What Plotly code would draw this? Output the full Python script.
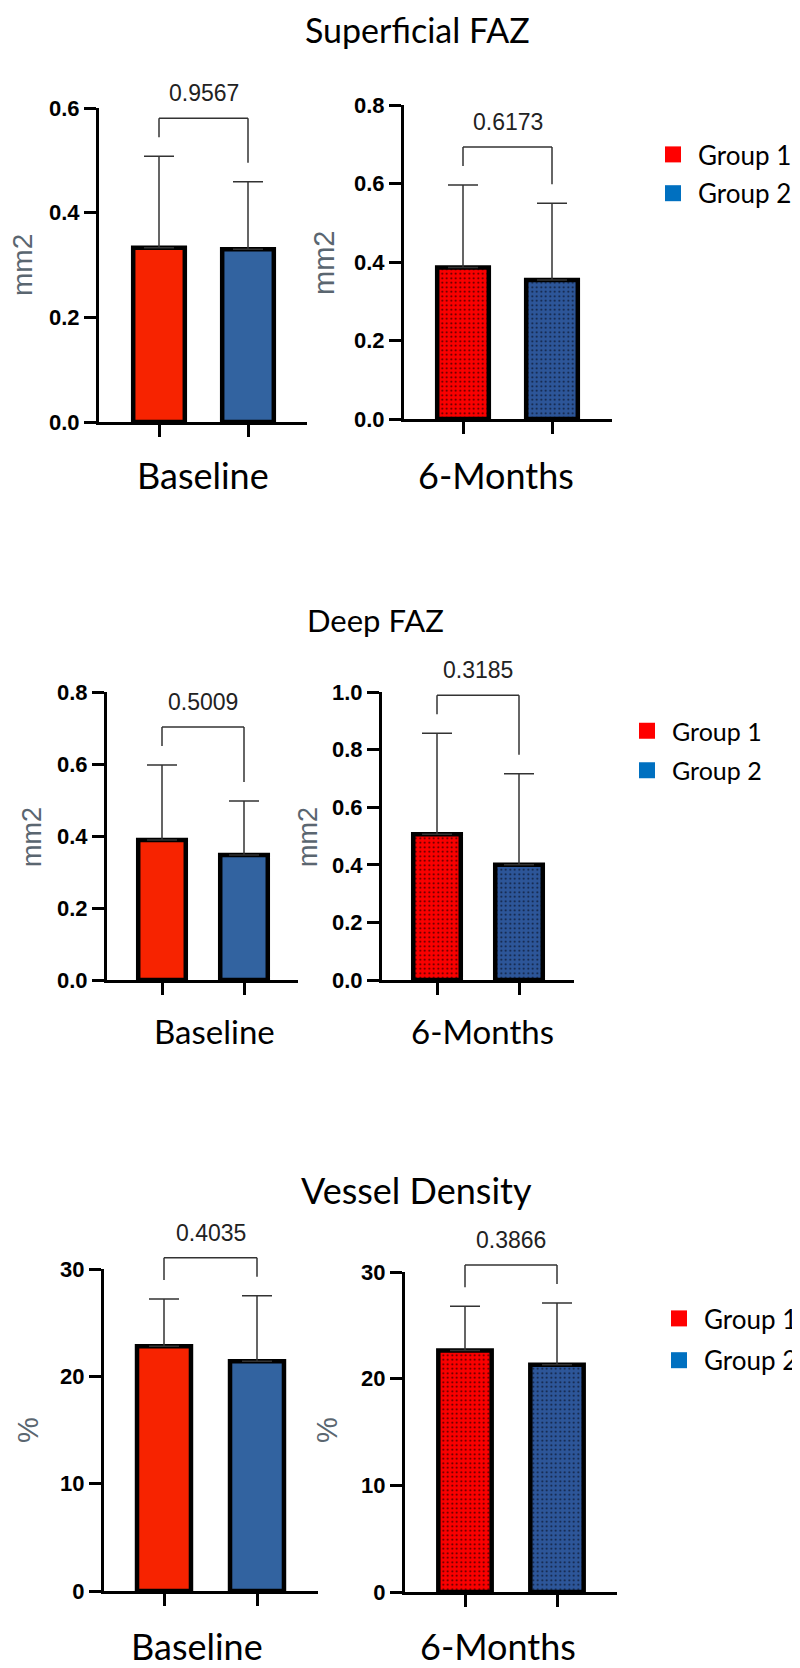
import plotly.graph_objects as go

# ---------------- data ----------------
groups = ["Group 1", "Group 2"]
section_titles = ["Superficial FAZ", "Deep FAZ", "Vessel Density"]
timepoints = ["Baseline", "6-Months"]
y_units = ["mm2", "mm2", "mm2", "mm2", "%", "%"]

sup_base_mean = [0.333, 0.330]
sup_base_sd = [0.175, 0.129]
sup_6m_mean = [0.386, 0.354]
sup_6m_sd = [0.210, 0.196]

deep_base_mean = [0.389, 0.347]
deep_base_sd = [0.208, 0.150]
deep_6m_mean = [0.506, 0.400]
deep_6m_sd = [0.351, 0.316]

vd_base_mean = [22.8, 21.4]
vd_base_sd = [4.4, 6.1]
vd_6m_mean = [22.65, 21.3]
vd_6m_sd = [4.15, 5.8]

p_values = ["0.9567", "0.6173", "0.5009", "0.3185", "0.4035", "0.3866"]
y_max = [0.6, 0.8, 0.8, 1.0, 30, 30]
y_dtick = [0.2, 0.2, 0.2, 0.2, 10, 10]
y_format = [".1f", ".1f", ".1f", ".1f", "d", "d"]

means = [sup_base_mean, sup_6m_mean, deep_base_mean, deep_6m_mean, vd_base_mean, vd_6m_mean]
sds = [sup_base_sd, sup_6m_sd, deep_base_sd, deep_6m_sd, vd_base_sd, vd_6m_sd]

# ---------------- layout geometry (page px) ----------------
PAGE_W, PAGE_H = 800, 1668
OFF = 8  # default page body margin
W, H = PAGE_W - OFF, PAGE_H - OFF


def xp(px):
    return (px - OFF) / W


def yp(py):
    return 1 - (py - OFF) / H


# x0,x1: axis extent; c0,c1: category centres; ytop: top tick; ybot: zero line
geom = [
    dict(x0=99, x1=307, c0=159, c1=248, ytop=108, ybot=422),
    dict(x0=404, x1=612, c0=463, c1=552, ytop=105, ybot=419),
    dict(x0=107, x1=298, c0=162, c1=244, ytop=692, ybot=980),
    dict(x0=382, x1=574, c0=437, c1=519, ytop=692, ybot=980),
    dict(x0=104, x1=318, c0=164, c1=257, ytop=1269, ybot=1591),
    dict(x0=405, x1=617, c0=465, c1=557, ytop=1272, ybot=1592),
]

base_colors = ["#f72300", "#3263a0"]
m6_colors = ["#fa0000", "#2d5699"]
m6_dots = ["#3a0000", "#0e1b36"]
legend_colors = ["#ff0000", "#0070c0"]

tick_font = dict(family="Liberation Sans, Arial", size=22, color="black", weight="bold")
cat_font = "Lato"

fig = go.Figure()
shapes = []
annotations = []

for i in range(6):
    g = geom[i]
    sfx = "" if i == 0 else str(i + 1)
    xa, ya = "x" + sfx, "y" + sfx
    is6m = i % 2 == 1
    for j in range(2):
        if is6m:
            marker = dict(
                color=m6_colors[j],
                line=dict(color="black", width=4.5),
                pattern=dict(shape=".", fgcolor=m6_dots[j], bgcolor=m6_colors[j],
                             fgopacity=1, size=4.5, solidity=0.14, fillmode="replace"),
            )
        else:
            marker = dict(color=base_colors[j], line=dict(color="black", width=4.5))
        fig.add_trace(go.Bar(
            x=[groups[j]], y=[means[i][j]], width=0.58,
            marker=marker,
            error_y=dict(type="data", array=[sds[i][j]], arrayminus=[0], symmetric=False,
                         color="#333333", thickness=1.5, width=15),
            showlegend=False, xaxis=xa, yaxis=ya,
        ))
    unit = (g["c1"] - g["c0"])
    r0 = (g["x0"] - g["c0"]) / unit
    r1 = (g["x1"] - g["c0"]) / unit
    fig.layout["xaxis" + sfx] = dict(
        domain=[xp(g["x0"]), xp(g["x1"])], range=[r0, r1], anchor=ya,
        type="category", categoryorder="array", categoryarray=groups,
        showline=True, linecolor="black", linewidth=3,
        ticks="outside", ticklen=12, tickwidth=3, tickcolor="black",
        showticklabels=False, showgrid=False, zeroline=False, fixedrange=True,
    )
    fig.layout["yaxis" + sfx] = dict(
        domain=[yp(g["ybot"]), yp(g["ytop"])], range=[0, y_max[i]], anchor=xa,
        dtick=y_dtick[i], tick0=0, tickformat=y_format[i],
        showline=True, linecolor="black", linewidth=3,
        ticks="outside", ticklen=12, tickwidth=3, tickcolor="black",
        tickfont=tick_font, showgrid=False, zeroline=False, fixedrange=True,
    )

    # significance bracket (computed from error bar tops through the axis scale)
    hpx = g["ybot"] - g["ytop"]
    gap = 19 / hpx
    tops = [(m + s) / y_max[i] + gap for m, s in zip(means[i], sds[i])]
    btop = max(tops) + gap
    xl = (0 - r0) / (r1 - r0)
    xr = (1 - r0) / (r1 - r0)
    line = dict(color="#333333", width=1.5)
    shapes.append(dict(type="line", xref=xa + " domain", yref=ya + " domain",
                       x0=xl, x1=xl, y0=tops[0], y1=btop, line=line))
    shapes.append(dict(type="line", xref=xa + " domain", yref=ya + " domain",
                       x0=xr, x1=xr, y0=tops[1], y1=btop, line=line))
    shapes.append(dict(type="line", xref=xa + " domain", yref=ya + " domain",
                       x0=xl, x1=xr, y0=btop, y1=btop, line=line))
    annotations.append(dict(text=p_values[i], xref=xa + " domain", yref=ya + " domain",
                            x=(xl + xr) / 2, y=btop, yshift=10, showarrow=False,
                            xanchor="center", yanchor="bottom",
                            font=dict(family="Liberation Sans, Arial", size=23, color="#222222")))

# y-axis unit titles
unit_pos = [(22, 265), (324, 263), (32, 837), (308, 837), (28, 1430), (327, 1430)]
unit_sizes = [28, 29, 27, 27, 29, 29]
for i in range(6):
    px, py = unit_pos[i]
    annotations.append(dict(text=y_units[i], xref="paper", yref="paper", x=xp(px), y=yp(py),
                            textangle=-90, showarrow=False, xanchor="center", yanchor="middle",
                            font=dict(family="Liberation Sans, Arial", size=unit_sizes[i], color="#5a6670")))

# section titles
title_pos = [(418, 31), (375, 622), (416, 1192)]
title_sizes = [34, 31, 36]
for k in range(3):
    px, py = title_pos[k]
    annotations.append(dict(text=section_titles[k], xref="paper", yref="paper", x=xp(px), y=yp(py),
                            yshift=2, showarrow=False, xanchor="center", yanchor="middle",
                            font=dict(family=cat_font, size=title_sizes[k], color="black")))

# timepoint (x-axis) labels
tp_pos = [(203, 477), (496, 477), (214, 1033), (483, 1033), (197, 1648), (498, 1648)]
tp_sizes = [36, 36, 33, 33, 36, 36]
for i in range(6):
    px, py = tp_pos[i]
    annotations.append(dict(text=timepoints[i % 2], xref="paper", yref="paper", x=xp(px), y=yp(py),
                            yshift=2, showarrow=False, xanchor="center", yanchor="middle",
                            font=dict(family=cat_font, size=tp_sizes[i], color="black")))

# legends (one per section)
legend_names = ["legend", "legend2", "legend3"]
legend_anchor = [(648, 131), (622, 708), (654, 1295)]
legend_sizes = [26, 25, 26]
legend_gaps = [2, 4, 5]
for k in range(3):
    for j in range(2):
        fig.add_trace(go.Scatter(
            x=[None], y=[None], mode="markers", name=groups[j],
            marker=dict(symbol="square", size=16, color=legend_colors[j]),
            legend=legend_names[k], legendgroup="g%d%d" % (k, j), showlegend=True,
            xaxis="x" if k == 0 else "x" + str(2 * k + 1),
            yaxis="y" if k == 0 else "y" + str(2 * k + 1),
        ))
    lx, ly = legend_anchor[k]
    fig.layout[legend_names[k]] = dict(
        x=xp(lx), y=yp(ly), xanchor="left", yanchor="top", xref="paper", yref="paper",
        font=dict(family=cat_font, size=legend_sizes[k], color="black"), bgcolor="rgba(0,0,0,0)",
        borderwidth=0, itemwidth=40, tracegroupgap=legend_gaps[k],
    )

fig.update_layout(
    width=W, height=H, margin=dict(l=0, r=0, t=0, b=0, autoexpand=False),
    paper_bgcolor="white", plot_bgcolor="white",
    shapes=shapes, annotations=annotations, barmode="overlay",
)

fig.write_html("out.html")
